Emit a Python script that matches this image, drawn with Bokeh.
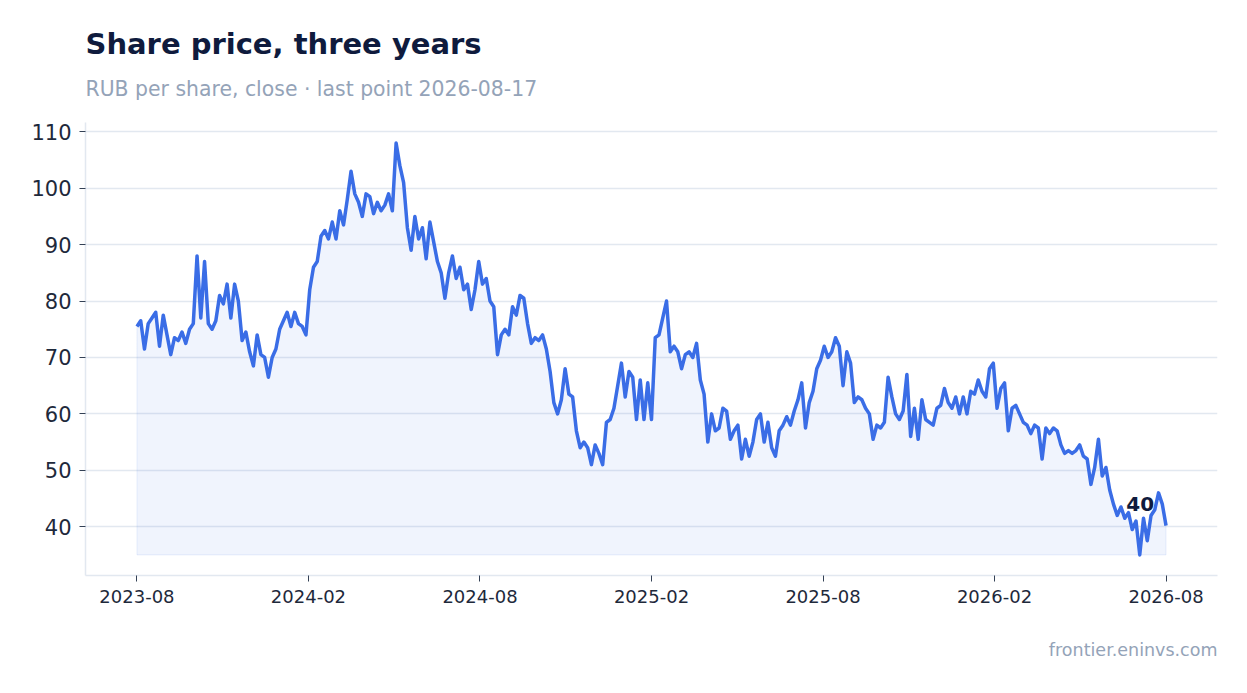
import numpy as np
import pandas as pd
from bokeh.embed import file_html
from bokeh.resources import INLINE
from bokeh.models import ColumnDataSource, Label, Title, FixedTicker, DatetimeTickFormatter, Range1d
from bokeh.plotting import figure

# close price, RUB per share, one reading every 4 days
START = "2023-08-17"
END = "2026-08-17"
price = [
    75.5, 76.5, 71.5, 76, 77, 78, 72, 77.5, 74, 70.5,
    73.5, 73, 74.5, 72.5, 75, 76, 88, 77, 87, 76,
    75, 76.5, 81, 79.5, 83, 77, 83, 80, 73, 74.5,
    71, 68.5, 74, 70.5, 70, 66.5, 70, 71.5, 75, 76.5,
    78, 75.5, 78, 76, 75.5, 74, 82, 86, 87, 91.5,
    92.5, 91, 94, 91, 96, 93.5, 98, 103, 99, 97.5,
    95, 99, 98.5, 95.5, 97.5, 96, 97, 99, 96, 108,
    104, 101, 93, 89, 95, 91, 93, 87.5, 94, 90.5,
    87, 85, 80.5, 85, 88, 84, 86, 82, 83, 78.5,
    82, 87, 83, 84, 80, 79, 70.5, 74, 75, 74,
    79, 77.5, 81, 80.5, 76, 72.5, 73.5, 73, 74, 71.5,
    67.5, 62, 60, 62.5, 68, 63.5, 63, 57, 54, 55,
    54, 51, 54.5, 53, 51, 58.5, 59, 61, 65, 69,
    63, 67.5, 66.5, 59, 66, 59, 65.5, 59, 73.5, 74,
    77, 80, 71, 72, 71, 68, 70.5, 71, 70, 72.5,
    66, 63.5, 55, 60, 57, 57.5, 61, 60.5, 55.5, 57,
    58, 52, 55.5, 52.5, 55, 59, 60, 55, 58.5, 54,
    52.5, 57, 58, 59.5, 58, 60.5, 62.5, 65.5, 57.5, 62,
    64, 68, 69.5, 72, 70, 71, 73.5, 72, 65, 71,
    69, 62, 63, 62.5, 61, 60, 55.5, 58, 57.5, 58.5,
    66.5, 63, 60, 59, 60.5, 67, 56, 61, 55.5, 62.5,
    59, 58.5, 58, 61, 61.5, 64.5, 62, 61, 63, 60,
    63, 60, 64, 63.5, 66, 64, 63, 68, 69, 61,
    64.5, 65.5, 57, 61, 61.5, 60, 58.5, 58, 56.5, 58,
    57.5, 52, 57.5, 56.5, 57.5, 57, 54.5, 53, 53.5, 53,
    53.5, 54.5, 52.5, 52, 47.5, 50.5, 55.5, 49, 50.5, 46.5,
    44, 42, 43.5, 41.5, 42.5, 39.5, 41, 35, 41.5, 37.5,
    42, 43, 46, 44, 40.2,
]
y_ticks = [40, 50, 60, 70, 80, 90, 100, 110]
n_x_ticks = 7

BLUE = "#3a6de6"
NAVY = "#0f1b3d"
MUTED = "#94a3b8"
FONT = "DejaVu Sans"

dates = pd.date_range(START, END, freq="4D")
src = ColumnDataSource(dict(date=dates, price=price))

t0 = dates[0].value / 1e6
t1 = dates[-1].value / 1e6
pad_x = (t1 - t0) * 0.05
lo, hi = min(price), max(price)
pad_y = (hi - lo) * 0.05

p = figure(width=1232, height=693, x_axis_type="datetime",
           x_range=Range1d(t0 - pad_x, t1 + pad_x),
           y_range=Range1d(lo - pad_y, hi + pad_y),
           output_backend="svg", toolbar_location=None,
           min_border_left=85, min_border_right=15,
           min_border_top=122, min_border_bottom=118)
p.outline_line_color = None
p.background_fill_color = "white"
p.border_fill_color = "white"

# shaded area down to the lowest close
area_x = list(dates) + [dates[-1], dates[0]]
area_y = list(price) + [lo, lo]
p.patch(area_x, area_y, fill_color=BLUE, fill_alpha=0.08,
        line_color=BLUE, line_alpha=0.1, line_width=1)
p.line("date", "price", source=src, line_color=BLUE, line_width=3.5, line_join="round")

p.xaxis.ticker = FixedTicker(ticks=list(np.linspace(t0, t1, n_x_ticks)))
p.xaxis.formatter = DatetimeTickFormatter(
    milliseconds="%Y-%m", seconds="%Y-%m", minsec="%Y-%m", minutes="%Y-%m",
    hourmin="%Y-%m", hours="%Y-%m", days="%Y-%m", months="%Y-%m", years="%Y-%m")
p.yaxis.ticker = FixedTicker(ticks=y_ticks)

for ax, size in ((p.xaxis, "18px"), (p.yaxis, "21px")):
    ax.axis_line_color = "#e2e8f0"
    ax.axis_line_width = 1.5
    ax.major_tick_line_color = "#334155"
    ax.major_tick_out = 6
    ax.major_tick_in = 0
    ax.minor_tick_line_color = None
    ax.major_label_text_font = FONT
    ax.major_label_text_font_size = size
    ax.major_label_text_color = "#1e293b"
    ax.major_label_standoff = 8

p.xgrid.visible = False
p.ygrid.grid_line_color = "#e2e8f0"
p.ygrid.grid_line_width = 1.5

# headings: first added sits next to the frame
p.add_layout(Title(text=" ", text_font_size="16.5px", standoff=0), "above")
p.add_layout(Title(text="RUB per share, close \u00b7 last point " + END,
                   text_font=FONT, text_font_size="20.4px", text_font_style="normal",
                   text_color=MUTED, align="left", standoff=4), "above")
p.add_layout(Title(text="Share price, three years", text_font=FONT,
                   text_font_size="29px", text_font_style="bold",
                   text_color=NAVY, align="left", standoff=24), "above")
p.add_layout(Title(text="frontier.eninvs.com", text_font=FONT,
                   text_font_size="17.5px", text_font_style="normal",
                   text_color=MUTED, align="right", standoff=64), "below")

p.add_layout(Label(x=t1, y=price[-1], x_offset=-12, y_offset=22,
                   text=f"{price[-1]:.0f}", text_font=FONT,
                   text_font_style="bold", text_font_size="20px",
                   text_color=NAVY, text_align="right",
                   text_baseline="alphabetic"))

open("out.html", "w").write(file_html(p, INLINE))
